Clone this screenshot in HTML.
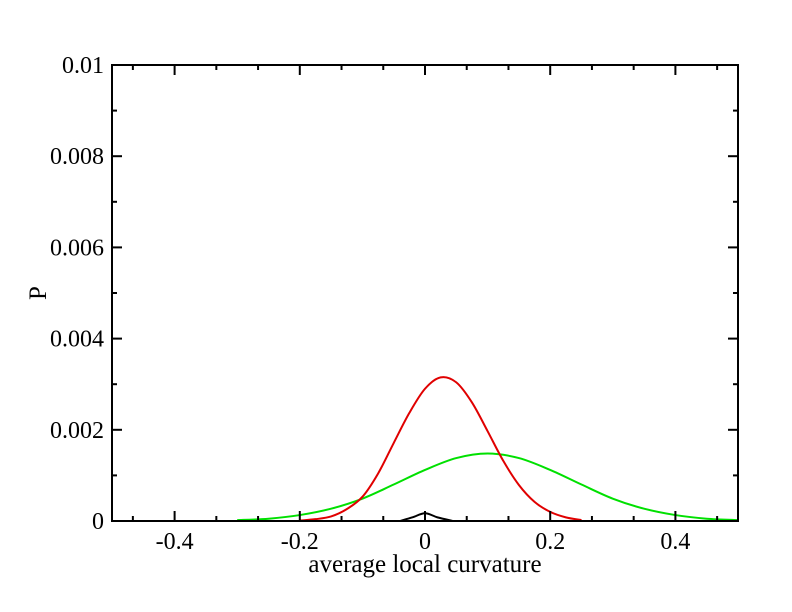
<!DOCTYPE html>
<html><head><meta charset="utf-8"><style>
body{margin:0;background:#fff}
svg{display:block;font-family:"Liberation Serif",serif}
</style></head><body>
<svg id="c" width="792" height="612">
<rect width="792" height="612" fill="#fff"/>
<g id="marks"></g>
<g id="axes"></g>
<rect x="112" y="65" width="626" height="456" fill="none" stroke="#000" stroke-width="2"/>
<text x="425" y="572" font-size="25" text-anchor="middle">average local curvature</text>
<text transform="translate(46,293) rotate(-90)" font-size="25" text-anchor="middle">P</text>
</svg>
<script>
const redX=[-0.2,-0.175,-0.15,-0.125,-0.1,-0.075,-0.05,-0.025,0,0.025,0.05,0.075,0.1,0.125,0.15,0.175,0.2,0.225,0.25];
const redY=[0.00001,0.00004,0.0001,0.00026,0.00053,0.00104,0.00171,0.00237,0.0029,0.00315,0.00304,0.0026,0.00197,0.00132,0.00079,0.00042,0.0002,0.00008,0.00002];
const greenX=[-0.3,-0.25,-0.2,-0.15,-0.1,-0.05,0,0.05,0.1,0.15,0.2,0.25,0.3,0.35,0.4,0.45,0.5];
const greenY=[0.00002,0.00005,0.00013,0.00027,0.00049,0.0008,0.00112,0.00138,0.00148,0.00138,0.00112,0.0008,0.00049,0.00027,0.00013,0.00005,0.00002];
const blackX=[-0.04,-0.02,0,0.02,0.045];
const blackY=[0,0.00008,0.00017,0.00008,0];
const xTicks=[-0.4,-0.2,0,0.2,0.4];
const xTickLabels=["-0.4","-0.2","0","0.2","0.4"];
const yTicks=[0,0.002,0.004,0.006,0.008,0.01];
const yTickLabels=["0","0.002","0.004","0.006","0.008","0.01"];
const X0=112,X1=738,Y0=521,Y1=65;
function sx(v){return X0+(v+0.5)/1*(X1-X0);}
function sy(v){return Y0-v/0.01*(Y0-Y1);}
const NS="http://www.w3.org/2000/svg";
const marks=document.getElementById('marks'),axes=document.getElementById('axes');
function smooth(xs,ys){
  const p=xs.map((x,i)=>[sx(x),sy(ys[i])]);
  let d="M"+p[0][0]+","+p[0][1];
  for(let i=0;i<p.length-1;i++){
    const a=p[i-1]||p[i],b=p[i],c=p[i+1],e=p[i+2]||c;
    const c1=[b[0]+(c[0]-a[0])/6,b[1]+(c[1]-a[1])/6],c2=[c[0]-(e[0]-b[0])/6,c[1]-(e[1]-b[1])/6];
    d+=" C"+c1+" "+c2+" "+c;
  }
  return d;
}
function line(xs,ys,col,name){
  const el=document.createElementNS(NS,'path');
  el.setAttribute('d',smooth(xs,ys));
  el.setAttribute('fill','none');el.setAttribute('stroke',col);el.setAttribute('stroke-width','2');
  
  
  marks.appendChild(el);
}
line(greenX,greenY,'#00e000','series-green');
line(redX,redY,'#e00000','series-red');
line(blackX,blackY,'#000','series-black');
function ln(x1,y1,x2,y2){const l=document.createElementNS(NS,'line');l.setAttribute('x1',x1);l.setAttribute('y1',y1);l.setAttribute('x2',x2);l.setAttribute('y2',y2);l.setAttribute('stroke','#000');l.setAttribute('stroke-width','2');axes.appendChild(l);return l;}
for(let i=-1;i<=16;i++){const v=-0.4+i*0.2/3;if(v<-0.5001||v>0.5001)continue;const x=sx(v),L=(i%3==0)?10:5;
  const t=ln(x,Y0,x,Y0-L);
  const t2=ln(x,Y1,x,Y1+L);}
for(let i=0;i<=10;i++){const y=sy(i*0.001),L=(i%2==0)?10:5;
  const t=ln(X0,y,X0+L,y);
  const t2=ln(X1,y,X1-L,y);}
xTicks.forEach((v,i)=>{const t=document.createElementNS(NS,'text');t.setAttribute('x',sx(v));t.setAttribute('y',549);t.setAttribute('font-size','24');t.setAttribute('text-anchor','middle');t.textContent=xTickLabels[i];
  
  
  axes.appendChild(t);});
yTicks.forEach((v,i)=>{const t=document.createElementNS(NS,'text');t.setAttribute('x',104);t.setAttribute('y',sy(v)+8);t.setAttribute('font-size','24');t.setAttribute('text-anchor','end');t.textContent=yTickLabels[i];
  
  
  axes.appendChild(t);});
</script>
</body></html>
